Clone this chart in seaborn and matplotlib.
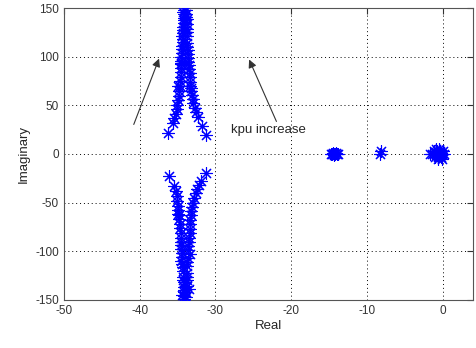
import matplotlib
matplotlib.use("Agg")
import numpy as np
import pandas as pd
import matplotlib.pyplot as plt
import seaborn as sns

# upper complex branches
up_left_re = [-36.3, -35.6, -35.2, -35.0, -34.8, -34.7, -34.6, -34.5, -34.5, -34.4, -34.4, -34.3,
              -34.3, -34.3, -34.2, -34.2, -34.2, -34.2,
              -35.4, -35.1, -34.9, -34.8, -34.7, -34.6, -34.6, -34.5, -34.4, -34.3, -34.3, -34.2,
              -34.9, -34.6, -34.4, -34.3]
up_left_im = [22, 32, 41, 50, 60, 70, 79, 88, 96, 104, 111, 118, 124, 130, 135, 140, 144, 148,
              37, 46, 55, 65, 75, 84, 92, 100, 108, 115, 127, 138,
              70, 93, 121, 146]
up_right_re = [-31.2, -31.8, -32.3, -32.7, -33.0, -33.2, -33.3, -33.4, -33.5, -33.6, -33.6, -33.7,
               -33.7, -33.8, -33.8, -33.8, -33.9, -33.9,
               -32.5, -32.9, -33.1, -33.3, -33.4, -33.5, -33.6, -33.7, -33.8, -33.9, -33.2, -33.6]
up_right_im = [20, 29, 38, 47, 56, 65, 74, 83, 91, 99, 107, 114, 121, 128, 134, 139, 144, 148,
               43, 52, 61, 70, 79, 87, 95, 110, 125, 141, 68, 103]

# lower complex branches
lo_left_re = [-36.1, -35.4, -35.1, -34.9, -34.8, -34.7, -34.6, -34.5, -34.5, -34.4, -34.4, -34.3,
              -34.3, -34.2, -34.2, -34.2, -34.1, -34.1,
              -35.2, -35.0, -34.9, -34.8, -34.7, -34.6, -34.5, -34.4, -34.3, -34.3, -34.2, -34.9,
              -34.6, -34.4]
lo_left_im = [-23, -33, -43, -53, -63, -72, -81, -90, -98, -106, -113, -120, -126, -132, -137,
              -142, -146, -149,
              -38, -48, -58, -67, -76, -86, -94, -102, -116, -129, -140, -62, -110, -145]
lo_right_re = [-31.2, -31.9, -32.4, -32.8, -33.1, -33.2, -33.3, -33.4, -33.5, -33.6, -33.6, -33.7,
               -33.7, -33.8, -33.8, -33.9, -33.9,
               -32.2, -32.6, -33.0, -33.2, -33.3, -33.4, -33.5, -33.6, -33.7, -33.8, -33.3, -33.5]
lo_right_im = [-19.5, -28, -36, -45, -54, -63, -72, -81, -90, -99, -107, -115, -122, -129, -136,
               -142, -147,
               -32, -40, -50, -59, -68, -77, -86, -95, -111, -126, -103, -139]

# real-axis poles
real_re = [-14.8, -14.6, -14.4, -14.2, -14.0, -13.8, -14.5, -14.1, -14.3, -14.3, -8.3, -8.2,
           -1.7, -1.4, -1.1, -0.9, -0.7, -0.5, -0.3, -0.1, 0.1, -1.2, -0.8, -0.4, 0.0,
           -1.0, -0.6, -0.2, -0.9, -0.5, -0.1, -0.7, -0.3]
real_im = [0, 0, 0, 0, 0, 0, 1, 1, -1, 0, 0, 3,
           0, 0, 0, 0, 0, 0, 0, 0, 0, 3, 3, 3, 3,
           -3, -3, -3, 5, 5, -5, -5, 1]

re = up_left_re + up_right_re + lo_left_re + lo_right_re + real_re
im = up_left_im + up_right_im + lo_left_im + lo_right_im + real_im
df = pd.DataFrame({"Real": re, "Imaginary": im})

sns.set_style("white")
plt.rcParams["font.family"] = ["Liberation Sans", "DejaVu Sans"]
plt.rcParams["axes.unicode_minus"] = False

fig = plt.figure(figsize=(4.76, 3.48), dpi=100)
ax = fig.add_axes([0.134, 0.138, 0.86, 0.839])

sns.scatterplot(data=df, x="Real", y="Imaginary", ax=ax, marker=(8, 2, 0), s=75,
                color="blue", linewidth=0.8, zorder=3)

ax.set_xlim(-50, 4)
ax.set_ylim(-150, 150)
ax.set_xticks([-50, -40, -30, -20, -10, 0])
ax.set_yticks([-150, -100, -50, 0, 50, 100, 150])
ax.grid(True, linestyle=(0, (1, 3)), color="black", linewidth=0.7)
ax.tick_params(direction="in", top=True, right=True, length=4, labelsize=8.5, colors="#333333")
for sp in ax.spines.values():
    sp.set_color("#555555")
    sp.set_linewidth(0.8)
ax.set_xlabel("Real", fontsize=9.5, labelpad=2)
ax.set_ylabel("Imaginary", fontsize=9.5)

arrow = dict(arrowstyle="-|>", color="#333333", lw=0.8, mutation_scale=12)
ax.annotate("", xy=(-37.3, 100.7), xytext=(-40.9, 27.7), arrowprops=arrow)
ax.annotate("", xy=(-25.7, 99.7), xytext=(-21.8, 30.8), arrowprops=arrow)
ax.text(-27.9, 25, "kpu increase", fontsize=9.5, va="center", ha="left")

fig.savefig("out.png", dpi=100)
